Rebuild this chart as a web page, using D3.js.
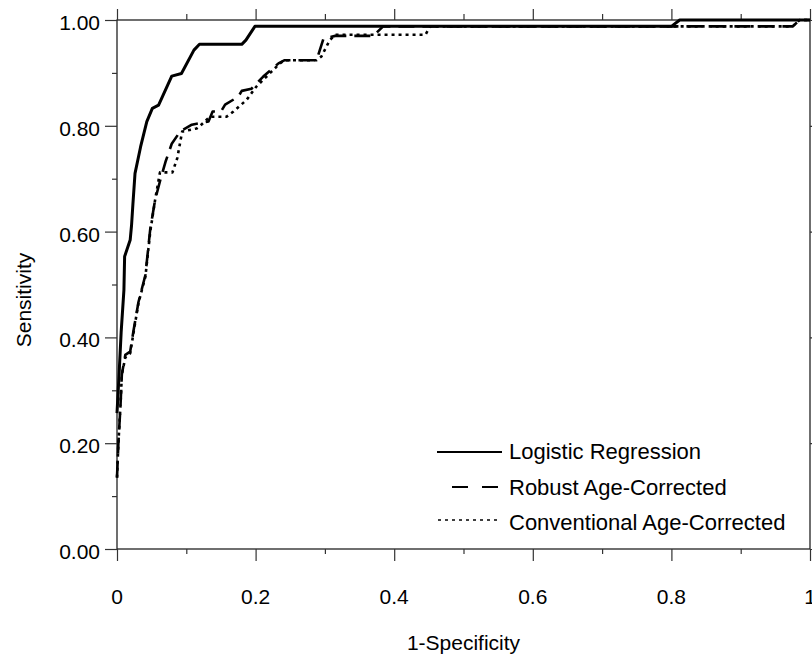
<!DOCTYPE html>
<html>
<head>
<meta charset="utf-8">
<script src="https://cdn.jsdelivr.net/npm/d3@7"></script>
<style>
  html, body { margin: 0; padding: 0; background: #fff; }
  svg { display: block; }
  text { font-family: "Liberation Sans", Arial, Helvetica, sans-serif; fill: #000; }
</style>
</head>
<body>
<svg id="chart" width="812" height="656"></svg>
<script>
// ---- data ----
const seriesNames = ["Logistic Regression", "Robust Age-Corrected", "Conventional Age-Corrected"];

const logisticX = [0, 0.003, 0.006, 0.010, 0.011, 0.019, 0.021, 0.023, 0.026, 0.034, 0.043, 0.051, 0.060, 0.079, 0.093, 0.111, 0.119, 0.180, 0.186, 0.199, 0.800, 0.812, 1.0];
const logisticY = [0.257, 0.33, 0.41, 0.49, 0.553, 0.584, 0.612, 0.653, 0.710, 0.760, 0.808, 0.833, 0.839, 0.894, 0.899, 0.943, 0.954, 0.954, 0.962, 0.988, 0.988, 1.0, 1.0];

const robustX = [0, 0.002, 0.005, 0.007, 0.012, 0.019, 0.024, 0.031, 0.041, 0.048, 0.055, 0.063, 0.070, 0.079, 0.091, 0.108, 0.132, 0.138, 0.150, 0.156, 0.175, 0.180, 0.194, 0.211, 0.233, 0.242, 0.288, 0.298, 0.315, 0.370, 0.384, 0.975, 0.985, 1.0];
const robustY = [0.135, 0.20, 0.27, 0.33, 0.367, 0.373, 0.414, 0.467, 0.518, 0.605, 0.660, 0.700, 0.732, 0.766, 0.789, 0.802, 0.808, 0.827, 0.827, 0.840, 0.855, 0.866, 0.870, 0.893, 0.918, 0.924, 0.924, 0.965, 0.970, 0.970, 0.988, 0.988, 1.0, 1.0];

const convX = [0, 0.002, 0.005, 0.007, 0.012, 0.019, 0.024, 0.031, 0.041, 0.048, 0.055, 0.062, 0.080, 0.087, 0.094, 0.115, 0.120, 0.134, 0.158, 0.168, 0.187, 0.201, 0.235, 0.242, 0.288, 0.295, 0.307, 0.315, 0.445, 0.452, 0.975, 0.985, 1.0];
const convY = [0.135, 0.20, 0.27, 0.33, 0.362, 0.370, 0.410, 0.465, 0.515, 0.600, 0.660, 0.712, 0.712, 0.739, 0.789, 0.795, 0.800, 0.817, 0.817, 0.827, 0.849, 0.874, 0.918, 0.924, 0.924, 0.931, 0.962, 0.972, 0.972, 0.988, 0.988, 1.0, 1.0];

const xTickLabels = ["0", "0.2", "0.4", "0.6", "0.8", "1"];
const yTickLabels = ["0.00", "0.20", "0.40", "0.60", "0.80", "1.00"];
const xAxisTitle = "1-Specificity";
const yAxisTitle = "Sensitivity";

// ---- layout ----
const svg = d3.select("#chart");
const pL = 117, pR = 810, pT = 20, pB = 549;
const x = d3.scaleLinear().domain([0, 1]).range([pL, pR]);
const y = d3.scaleLinear().domain([0, 1]).range([pB, pT]);

const majorTicks = d3.range(0, 1.0001, 0.2);
const minorTicks = d3.range(0.1, 1, 0.2);

// frame
svg.append("rect")
  .attr("x", pL).attr("y", pT)
  .attr("width", pR - pL).attr("height", pB - pT)
  .attr("fill", "none").attr("stroke", "#222").attr("stroke-width", 1.3);

// bottom axis
svg.append("g").attr("transform", `translate(0,${pB})`)
  .call(d3.axisBottom(x).tickValues(majorTicks).tickSize(12).tickFormat(""))
  .call(g => g.select(".domain").remove());
svg.append("g").attr("transform", `translate(0,${pB})`)
  .call(d3.axisBottom(x).tickValues(minorTicks).tickSize(5).tickFormat(""))
  .call(g => g.select(".domain").remove());
// top axis
svg.append("g").attr("transform", `translate(0,${pT})`)
  .call(d3.axisTop(x).tickValues(majorTicks).tickSize(11).tickFormat(""))
  .call(g => g.select(".domain").remove());
svg.append("g").attr("transform", `translate(0,${pT})`)
  .call(d3.axisTop(x).tickValues(minorTicks).tickSize(6).tickFormat(""))
  .call(g => g.select(".domain").remove());
// left axis
svg.append("g").attr("transform", `translate(${pL},0)`)
  .call(d3.axisLeft(y).tickValues(majorTicks).tickSize(12).tickFormat(""))
  .call(g => g.select(".domain").remove());
svg.append("g").attr("transform", `translate(${pL},0)`)
  .call(d3.axisLeft(y).tickValues(minorTicks).tickSize(5).tickFormat(""))
  .call(g => g.select(".domain").remove());
// right axis
svg.append("g").attr("transform", `translate(${pR},0)`)
  .call(d3.axisRight(y).tickValues(majorTicks).tickSize(12).tickFormat(""))
  .call(g => g.select(".domain").remove());

svg.selectAll(".tick line").attr("stroke", "#333").attr("stroke-width", 1.2);

// tick labels
svg.append("g").selectAll("text").data(majorTicks).join("text")
  .attr("x", d => x(d)).attr("y", 604)
  .attr("text-anchor", "middle").attr("font-size", 21)
  .text((d, i) => xTickLabels[i]);
svg.append("g").selectAll("text").data(majorTicks).join("text")
  .attr("x", 100).attr("y", d => y(d) + 10)
  .attr("text-anchor", "end").attr("font-size", 21)
  .text((d, i) => yTickLabels[i]);

// axis titles
svg.append("text").attr("x", (pL + pR) / 2).attr("y", 650)
  .attr("text-anchor", "middle").attr("font-size", 21).text(xAxisTitle);
svg.append("text").attr("transform", "translate(31,300) rotate(-90)")
  .attr("text-anchor", "middle").attr("font-size", 21).text(yAxisTitle);

// lines
const line = d3.line().x(d => x(d[0])).y(d => y(d[1]));
const zip = (xs, ys) => xs.map((v, i) => [v, ys[i]]);

const seriesDraw = [
  { data: zip(convX, convY), dash: "3,4", width: 2.6 },
  { data: zip(robustX, robustY), dash: "16,8", width: 2.6 },
  { data: zip(logisticX, logisticY), dash: null, width: 3 }
];
seriesDraw.forEach(s => {
  svg.append("path").datum(s.data)
    .attr("d", line)
    .attr("fill", "none")
    .attr("stroke", "#000")
    .attr("stroke-width", s.width)
    .attr("stroke-dasharray", s.dash)
    .attr("stroke-linejoin", "round");
});

// legend
const legendRows = [
  { name: seriesNames[0], x1: 437, x2: 502, dash: null, w: 2, y: 452, ty: 459 },
  { name: seriesNames[1], x1: 452, x2: 498, dash: "16,14", w: 2, y: 487, ty: 495 },
  { name: seriesNames[2], x1: 438, x2: 501, dash: "3,4", w: 1.3, y: 520, ty: 530 }
];
const lg = svg.append("g");
legendRows.forEach(r => {
  lg.append("line").attr("x1", r.x1).attr("x2", r.x2).attr("y1", r.y).attr("y2", r.y)
    .attr("stroke", "#000").attr("stroke-width", r.w).attr("stroke-dasharray", r.dash);
  lg.append("text").attr("x", 509).attr("y", r.ty).attr("font-size", 22).text(r.name);
});
</script>
</body>
</html>
